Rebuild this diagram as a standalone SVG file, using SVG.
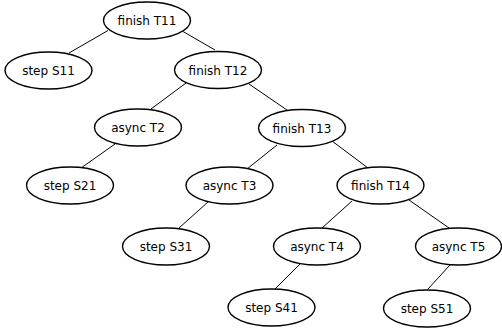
<svg xmlns="http://www.w3.org/2000/svg" width="502" height="328" viewBox="0 0 502 328">
<style>
.n ellipse{fill:#fff;stroke:#000;stroke-width:1.4}
.n text{font-family:"DejaVu Sans",sans-serif;font-size:12px;text-anchor:middle;fill:#000}
#edges line{stroke:#000;stroke-width:1}
</style>
<rect width="502" height="328" fill="#fff"/>
<g id="edges">
<line x1="108" y1="30.5" x2="69" y2="53"/>
<line x1="183" y1="31.5" x2="215" y2="50"/>
<line x1="186" y1="83" x2="151" y2="109"/>
<line x1="249" y1="84" x2="287" y2="110"/>
<line x1="115" y1="144" x2="81" y2="168"/>
<line x1="277" y1="145" x2="247" y2="169"/>
<line x1="332" y1="141" x2="368" y2="168"/>
<line x1="208" y1="202" x2="179" y2="228"/>
<line x1="352" y1="201" x2="322" y2="228"/>
<line x1="409" y1="200" x2="449" y2="228"/>
<line x1="300" y1="264" x2="275" y2="289"/>
<line x1="450" y1="265" x2="428" y2="289"/>
</g>
<g id="T11" class="n"><ellipse cx="147" cy="20.5" rx="43.5" ry="18.5"/><text x="147" y="25">finish T11</text></g>
<g id="S11" class="n"><ellipse cx="48.5" cy="70.5" rx="43.5" ry="18.5"/><text x="48.5" y="75">step S11</text></g>
<g id="T12" class="n"><ellipse cx="218" cy="70" rx="43.5" ry="18.5"/><text x="218" y="74.5">finish T12</text></g>
<g id="T2" class="n"><ellipse cx="138" cy="127.5" rx="43.5" ry="18.5"/><text x="138" y="132">async T2</text></g>
<g id="T13" class="n"><ellipse cx="302" cy="128" rx="43.5" ry="18.5"/><text x="302" y="132.5">finish T13</text></g>
<g id="S21" class="n"><ellipse cx="70" cy="185.5" rx="43.5" ry="18.5"/><text x="70" y="190">step S21</text></g>
<g id="T3" class="n"><ellipse cx="229.5" cy="185.5" rx="43.5" ry="18.5"/><text x="229.5" y="190">async T3</text></g>
<g id="T14" class="n"><ellipse cx="380.5" cy="185.5" rx="43.5" ry="18.5"/><text x="380.5" y="190">finish T14</text></g>
<g id="S31" class="n"><ellipse cx="166" cy="246.5" rx="43.5" ry="18.5"/><text x="166" y="251">step S31</text></g>
<g id="T4" class="n"><ellipse cx="317" cy="246.5" rx="43.5" ry="18.5"/><text x="317" y="251">async T4</text></g>
<g id="T5" class="n"><ellipse cx="458.5" cy="246.5" rx="43" ry="18.5"/><text x="458.5" y="251">async T5</text></g>
<g id="S41" class="n"><ellipse cx="271.5" cy="307.5" rx="43.5" ry="18.5"/><text x="271.5" y="312">step S41</text></g>
<g id="S51" class="n"><ellipse cx="427" cy="308.5" rx="43.5" ry="18.5"/><text x="427" y="313">step S51</text></g>
</svg>
